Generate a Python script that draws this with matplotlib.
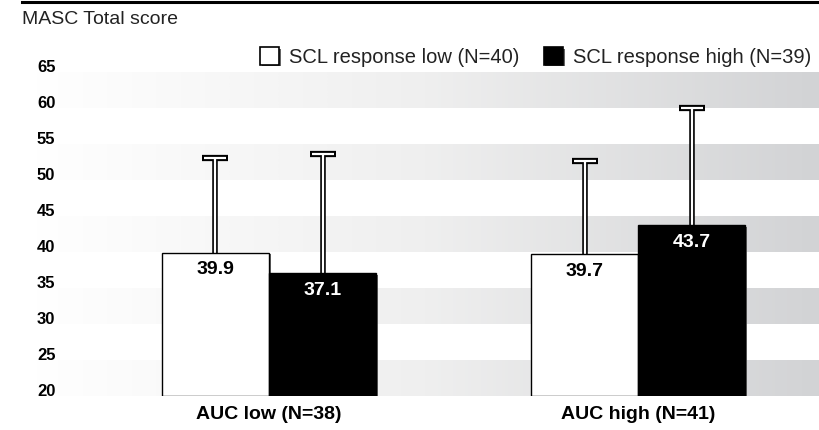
import numpy as np
import matplotlib.pyplot as plt
import matplotlib.transforms as mtransforms
from matplotlib.patches import Patch
from matplotlib.colors import LinearSegmentedColormap
import matplotlib.patheffects as pe

plt.rcParams['font.family'] = ['Liberation Sans', 'DejaVu Sans']

# datos
grupos = ["AUC low (N=38)", "AUC high (N=41)"]
series = ["SCL response low (N=40)", "SCL response high (N=39)"]
medias_low = [39.9, 39.7]
medias_high = [37.1, 43.7]
sd_low = [13.1, 13.0]
sd_high = [16.5, 16.3]
yticks = [20, 25, 30, 35, 40, 45, 50, 55, 60, 65]

W, H = 819, 430
fig = plt.figure(figsize=(W / 100, H / 100), dpi=100)

# ejes: x 32..819 px, y 20->396 px, 65->72 px
ax = fig.add_axes([32 / W, (H - 396) / H, 1 - 32 / W, (396 - 72) / H])
xmin, xmax = -0.642, 1.49
ax.set_xlim(xmin, xmax)
ax.set_ylim(20, 65)
for s in ax.spines.values():
    s.set_visible(False)
ax.set_xticks([])
ax.set_yticks([])

# bandas grises con degradado
grad = np.linspace(0, 1, 256).reshape(1, -1)
cmap = LinearSegmentedColormap.from_list("g", ["#ffffff", "#efefef", "#d2d3d5"])
for y0 in [20, 30, 40, 50, 60]:
    ax.imshow(grad, extent=[xmin, xmax, y0, y0 + 5], aspect='auto',
              cmap=cmap, zorder=0, interpolation='bicubic')

# etiquetas del eje y
off = mtransforms.ScaledTranslation(0, 5 / 100, fig.dpi_scale_trans)
trans_y = mtransforms.blended_transform_factory(fig.transFigure, ax.transData) + off
for t in yticks:
    fig.text(37 / W, t, str(t), fontsize=12, fontweight='bold',
             ha='left', va='center', transform=trans_y)

x = np.arange(len(grupos))
w = 0.29
sombra = [pe.SimplePatchShadow(offset=(1.2, -1.2), shadow_rgbFace='#555555', alpha=0.9), pe.Normal()]

# barras de error solo hacia arriba (contorno negro, interior blanco)
for xs, m, sd in [(x - w / 2, medias_low, sd_low), (x + w / 2, medias_high, sd_high)]:
    tope = np.array(m) + np.array(sd)
    ax.vlines(xs, m, tope, color='black', linewidth=4, zorder=2)
    ax.plot(xs, tope, ls='none', marker='_', markersize=19, markeredgewidth=4.5,
            color='black', zorder=2)
    ax.vlines(xs, m, tope, color='white', linewidth=1.6, zorder=2.1)
    ax.plot(xs, tope, ls='none', marker='_', markersize=16.5, markeredgewidth=1.6,
            color='white', zorder=2.1)

b1 = ax.bar(x - w / 2, np.array(medias_low) - 20, w, bottom=20, color='white',
            edgecolor='black', linewidth=1, zorder=3)
b2 = ax.bar(x + w / 2, np.array(medias_high) - 20, w, bottom=20, color='black',
            edgecolor='black', linewidth=1, zorder=3)
for b in list(b1) + list(b2):
    b.set_path_effects(sombra)

for xi, v in zip(x - w / 2, medias_low):
    ax.text(xi, v - 1.2, f"{v:.1f}", ha='center', va='top', fontsize=14,
            fontweight='bold', color='black', zorder=4)
for xi, v in zip(x + w / 2, medias_high):
    ax.text(xi, v - 1.2, f"{v:.1f}", ha='center', va='top', fontsize=14,
            fontweight='bold', color='white', zorder=4)

# etiquetas de grupo
for xi, g in zip(x, grupos):
    ax.text(xi, 20, g, ha='center', va='top', fontsize=14, fontweight='bold',
            transform=ax.transData + mtransforms.ScaledTranslation(0, -10 / 100, fig.dpi_scale_trans))

# título y línea superior
fig.text(22 / W, 1 - 20 / H, "MASC Total score", fontsize=14, color='#222222',
         ha='left', va='center')
fig.add_artist(plt.Line2D([22 / W, 1], [1 - 2 / H, 1 - 2 / H], color='black', linewidth=2.2))

# leyenda
handles = [Patch(facecolor='white', edgecolor='black', linewidth=1.2),
           Patch(facecolor='black', edgecolor='black', linewidth=1.2)]
for h in handles:
    h.set_path_effects(sombra)
leg = fig.legend(handles, series, loc='center left', bbox_to_anchor=(260 / W, 1 - 57 / H),
                 ncol=2, frameon=False, fontsize=14.5, handlelength=0.95, handleheight=0.95,
                 handletextpad=0.5, columnspacing=1.2, borderpad=0, borderaxespad=0)
for t in leg.get_texts():
    t.set_color('#222222')

fig.savefig("out.png", dpi=100)
